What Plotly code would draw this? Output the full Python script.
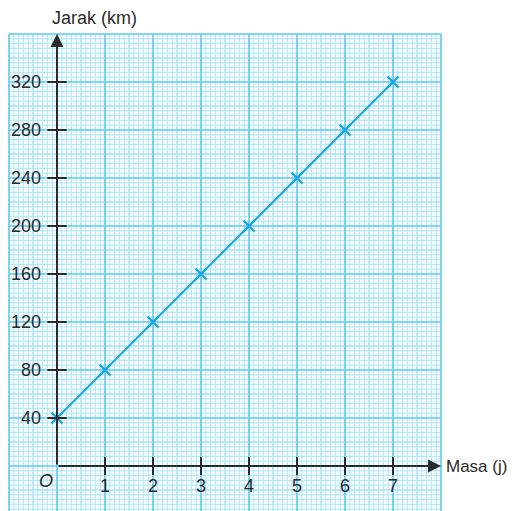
import plotly.graph_objects as go

# Data
masa = [0, 1, 2, 3, 4, 5, 6, 7]
jarak = [40, 80, 120, 160, 200, 240, 280, 320]
x_ticks = [1, 2, 3, 4, 5, 6, 7]
y_ticks = [40, 80, 120, 160, 200, 240, 280, 320]

X_LABEL = "Masa (j)"
Y_LABEL = "Jarak (km)"

# graph paper extents (data units)
GX0, GX1 = -1, 8
GY0, GY1 = -40, 360

INK = "#2b2a2a"
LINE_BLUE = "#19a7e3"
MINOR = "#b3e6f8"
MEDIUM = "#8ed8f4"
MAJOR = "#5ccaf0"
FONT = "Liberation Sans, Arial, sans-serif"
FS = 18

fig = go.Figure()
shapes = []

shapes.append(dict(type="rect", x0=GX0, x1=GX1, y0=GY0, y1=GY1,
                   xref="x", yref="y", fillcolor="#f4fbfe",
                   line=dict(width=0), layer="below"))

nx = int(round((GX1 - GX0) * 10))
for i in range(nx + 1):
    xv = GX0 + i / 10
    if i % 10 == 0:
        continue
    col = MEDIUM if i % 5 == 0 else MINOR
    shapes.append(dict(type="line", x0=xv, x1=xv, y0=GY0, y1=GY1,
                       xref="x", yref="y", line=dict(color=col, width=1.0),
                       layer="below"))
ny = int(round((GY1 - GY0) / 4))
for j in range(ny + 1):
    yv = GY0 + j * 4
    if j % 10 == 0:
        continue
    col = MEDIUM if j % 5 == 0 else MINOR
    shapes.append(dict(type="line", x0=GX0, x1=GX1, y0=yv, y1=yv,
                       xref="x", yref="y", line=dict(color=col, width=1.0),
                       layer="below"))
for i in range(0, nx + 1, 10):
    xv = GX0 + i / 10
    shapes.append(dict(type="line", x0=xv, x1=xv, y0=GY0, y1=GY1,
                       xref="x", yref="y", line=dict(color=MAJOR, width=1.6),
                       layer="below"))
for j in range(0, ny + 1, 10):
    yv = GY0 + j * 4
    shapes.append(dict(type="line", x0=GX0, x1=GX1, y0=yv, y1=yv,
                       xref="x", yref="y", line=dict(color=MAJOR, width=1.6),
                       layer="below"))

# tick marks
for xt in x_ticks:
    shapes.append(dict(type="line", x0=xt, x1=xt, y0=-7.5, y1=7.5,
                       xref="x", yref="y", line=dict(color=INK, width=2)))
for yt in y_ticks:
    shapes.append(dict(type="line", x0=-0.2, x1=0.2, y0=yt, y1=yt,
                       xref="x", yref="y", line=dict(color=INK, width=2)))

annotations = []
annotations.append(dict(x=GX1, y=0, ax=0, ay=0, xref="x", yref="y",
                        axref="x", ayref="y", showarrow=True, arrowhead=2,
                        arrowsize=1.3, arrowwidth=2, arrowcolor=INK, text=""))
annotations.append(dict(x=0, y=GY1, ax=0, ay=0, xref="x", yref="y",
                        axref="x", ayref="y", showarrow=True, arrowhead=2,
                        arrowsize=1.3, arrowwidth=2, arrowcolor=INK, text=""))

for xt in x_ticks:
    annotations.append(dict(x=xt, y=0, xref="x", yref="y", text=str(xt),
                            showarrow=False, yshift=-20,
                            font=dict(family=FONT, size=FS, color=INK)))
for yt in y_ticks:
    annotations.append(dict(x=0, y=yt, xref="x", yref="y", text=str(yt),
                            showarrow=False, xanchor="right", xshift=-14,
                            font=dict(family=FONT, size=FS, color=INK)))
annotations.append(dict(x=0, y=0, xref="x", yref="y", text="<i>O</i>",
                        showarrow=False, xshift=-11, yshift=-15,
                        font=dict(family=FONT, size=FS, color=INK)))
annotations.append(dict(x=GX1, y=0, xref="x", yref="y", text=X_LABEL,
                        showarrow=False, xanchor="left", xshift=4, yshift=0,
                        borderpad=0,
                        font=dict(family=FONT, size=17, color=INK)))
annotations.append(dict(x=-0.15, y=GY1, xref="x", yref="y", text=Y_LABEL,
                        showarrow=False, xanchor="left", yanchor="bottom",
                        yshift=4,
                        font=dict(family=FONT, size=FS, color=INK)))

fig.add_trace(go.Scatter(x=masa, y=jarak, mode="lines+markers",
                         line=dict(color=LINE_BLUE, width=2),
                         marker=dict(symbol="x-thin", size=11,
                                     line=dict(color=LINE_BLUE, width=2.2)),
                         showlegend=False, cliponaxis=False))

# page body has an 8px margin; figure is sized to fill the rest of the window
W, H = 507, 503
X0PX, Y0PX = 49, 458
px_per_x = 48.0
px_per_y = 48.0 / 40.0
fig.update_layout(
    width=W, height=H,
    margin=dict(l=0, r=0, t=0, b=0),
    paper_bgcolor="white", plot_bgcolor="white",
    shapes=shapes, annotations=annotations,
    xaxis=dict(range=[-X0PX / px_per_x, (W - X0PX) / px_per_x],
               visible=False, fixedrange=True),
    yaxis=dict(range=[-(H - Y0PX) / px_per_y, Y0PX / px_per_y],
               visible=False, fixedrange=True),
)

fig.write_html("out.html")
